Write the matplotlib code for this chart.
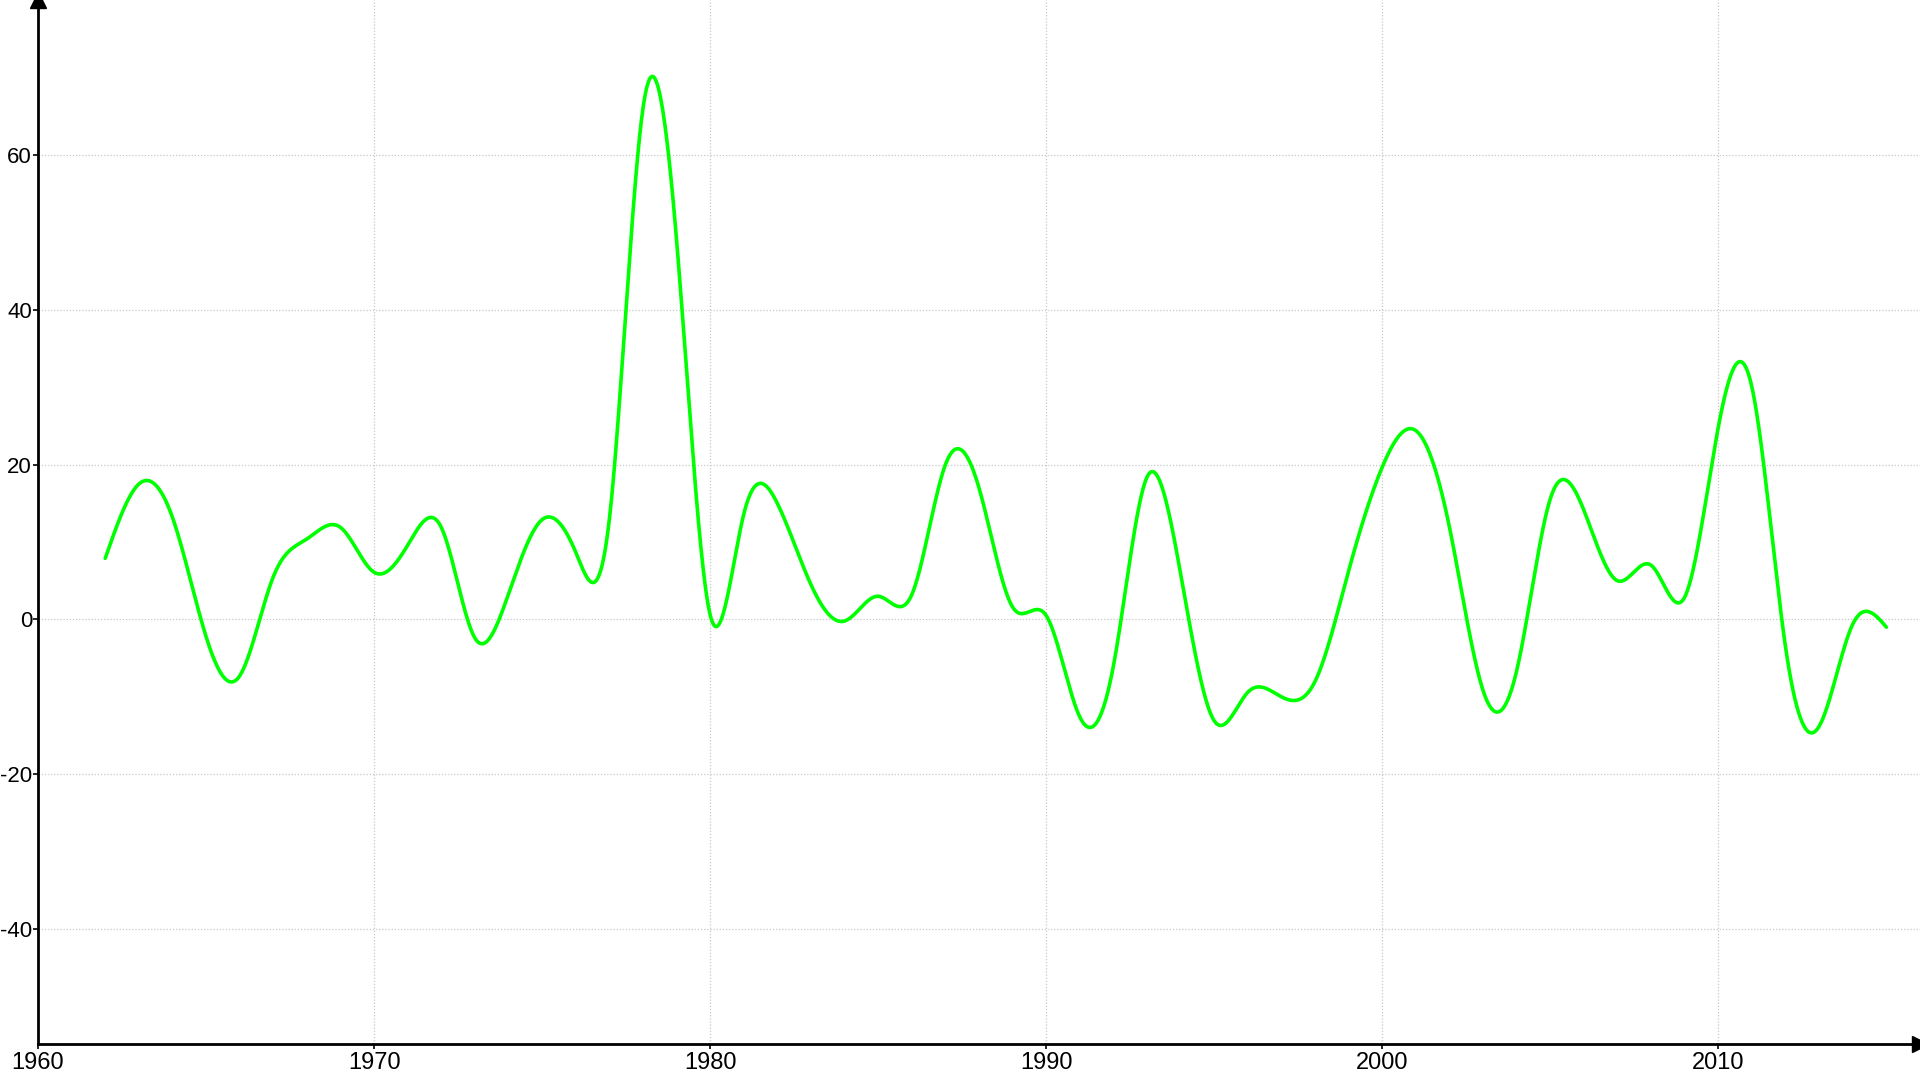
import numpy as np
import matplotlib
matplotlib.use("Agg")
import matplotlib.pyplot as plt
from matplotlib import font_manager

years = list(range(1962, 2016))
values = [7.9, 17.5, 13.2, -2.2, -7.3, 5.5, 10.4, 11.9, 6.1, 9.6,
          11.9, -2.4, 3.3, 12.9, 8.7, 12.9, 66.0, 49.1, 0.6, 13.6,
          15.0, 4.5, -0.2, 3.0, 3.2, 20.0, 17.0, 1.6, 0.5, -12.6,
          -6.0, 18.4, 5.9, -13.1, -9.4, -10.0, -8.0, 6.3, 19.7, 24.4,
          11.9, -9.2, -6.6, 15.6, 14.1, 5.0, 7.0, 2.9, 24.9, 30.0,
          -3.6, -13.8, -0.6, -1.0]
x_ticks = [1960, 1970, 1980, 1990, 2000, 2010]
y_ticks = [-40, -20, 0, 20, 40, 60]


def natural_spline(x, y, xs):
    x = np.asarray(x, float)
    y = np.asarray(y, float)
    n = len(x)
    h = np.diff(x)
    A = np.zeros((n, n))
    b = np.zeros(n)
    A[0, 0] = 1
    A[-1, -1] = 1
    for i in range(1, n - 1):
        A[i, i - 1] = h[i - 1]
        A[i, i] = 2 * (h[i - 1] + h[i])
        A[i, i + 1] = h[i]
        b[i] = 6 * ((y[i + 1] - y[i]) / h[i] - (y[i] - y[i - 1]) / h[i - 1])
    M = np.linalg.solve(A, b)
    idx = np.clip(np.searchsorted(x, xs) - 1, 0, n - 2)
    x0, x1 = x[idx], x[idx + 1]
    hh = x1 - x0
    t0 = x1 - xs
    t1 = xs - x0
    return (M[idx] * t0**3 / (6 * hh) + M[idx + 1] * t1**3 / (6 * hh)
            + (y[idx] / hh - M[idx] * hh / 6) * t0
            + (y[idx + 1] / hh - M[idx + 1] * hh / 6) * t1)


names = {f.name for f in font_manager.fontManager.ttflist}
fam = ['Liberation Sans Narrow', 'Liberation Sans', 'DejaVu Sans']
fam = [f for f in fam if f in names] or ['DejaVu Sans']
plt.rcParams['font.family'] = fam
plt.rcParams['axes.unicode_minus'] = False

fig = plt.figure(figsize=(19.2, 10.8), dpi=100)
ax = fig.add_axes([38 / 1920, (1080 - 1044.3) / 1080, 1 - 38 / 1920, 1044.3 / 1080])

xs = np.linspace(years[0], years[-1], 3000)
ys = natural_spline(years, values, xs)
ax.plot(xs, ys, color='#00ff00', lw=2.6, solid_capstyle='round', zorder=3)

ax.set_xlim(1960, 2016)
ax.set_ylim(-54.9, 80.05)
ax.set_xticks(x_ticks)
ax.set_yticks(y_ticks)
ax.set_xticklabels([str(v) for v in x_ticks])
ax.set_yticklabels([str(v) for v in y_ticks])
ax.grid(True, color='#c8c8c8', linestyle=(0, (1, 1.5)), linewidth=0.9)
ax.set_axisbelow(True)
for s in ['top', 'right']:
    ax.spines[s].set_visible(False)
for s in ['left', 'bottom']:
    ax.spines[s].set_linewidth(2)
    ax.spines[s].set_color('black')
ax.tick_params(axis='both', length=3.5, width=1.2, colors='black')
ax.tick_params(axis='x', labelsize=17, pad=2)
ax.tick_params(axis='y', labelsize=16, pad=0.8)

ax.plot([0], [1], marker='^', markersize=11, color='black', transform=ax.transAxes,
        clip_on=False, zorder=5)
ax.plot([1], [0], marker='>', markersize=11, color='black', transform=ax.transAxes,
        clip_on=False, zorder=5)

fig.savefig('out.png', dpi=100)
